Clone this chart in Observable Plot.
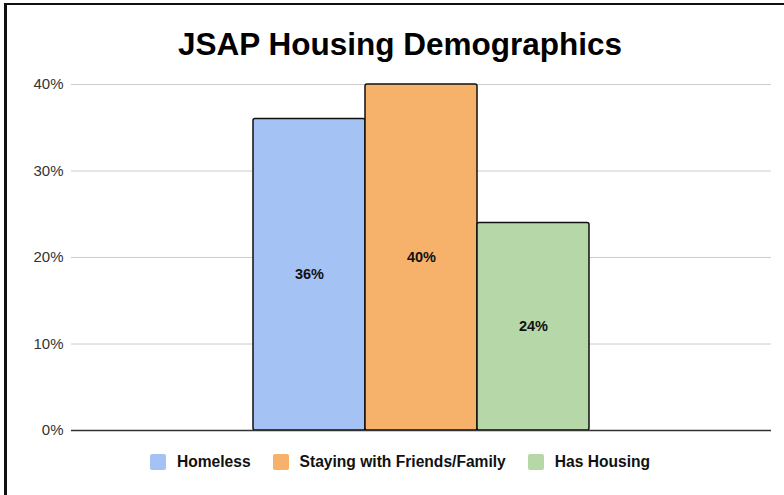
<!DOCTYPE html>
<html>
<head>
<meta charset="utf-8">
<script src="https://cdn.jsdelivr.net/npm/d3@7"></script>
<script src="https://cdn.jsdelivr.net/npm/@observablehq/plot@0.6"></script>
<style>
  html, body { margin: 0; padding: 0; background: #fff; }
  #page { position: relative; width: 784px; height: 495px; overflow: hidden; font-family: "Liberation Sans", Arial, sans-serif; }
  #frame { position: absolute; left: 4px; top: 3px; width: 790px; height: 500px; border-top: 2px solid #111; border-left: 3px solid #111; pointer-events: none; }
  #title { position: absolute; left: 16px; width: 768px; top: 26px; text-align: center; font-weight: bold; font-size: 31.5px; color: #000; line-height: 36px; }
  #chart { position: absolute; left: 0; top: 70px; }
  #legend { position: absolute; left: 16px; width: 768px; top: 453px; display: flex; justify-content: center; align-items: center; font-weight: bold; font-size: 15.6px; color: #111; }
  .item { display: flex; align-items: center; margin: 0 11px; }
  .sw { width: 16px; height: 16px; border-radius: 2px; margin-right: 11px; }
</style>
</head>
<body>
<div id="page">
  <div id="title">JSAP Housing Demographics</div>
  <div id="chart"></div>
  <div id="legend"></div>
  <div id="frame"></div>
</div>
<script>
const categories = ["Homeless", "Staying with Friends/Family", "Has Housing"];
const values = [0.36, 0.40, 0.24];
const colors = ["#a4c2f4", "#f6b26b", "#b6d7a8"];
const yTicks = [0, 0.1, 0.2, 0.3, 0.4];

const data = categories.map((c, i) => ({category: c, value: values[i]}));
const pct = d3.format(".0%");

const chart = Plot.plot({
  width: 784,
  height: 375,
  marginTop: 14,
  marginBottom: 15,
  marginLeft: 71,
  marginRight: 13,
  style: {fontFamily: "'Liberation Sans', Arial, sans-serif", fontSize: "15px", color: "#333", background: "transparent"},
  x: {domain: categories, paddingInner: 0, paddingOuter: 1.6, axis: null},
  y: {domain: [0, 0.4]},
  color: {domain: categories, range: colors},
  marks: [
    Plot.ruleY(yTicks.filter(d => d > 0), {stroke: "#cccccc", strokeWidth: 1}),
    Plot.axisY({ticks: yTicks, tickFormat: pct, tickSize: 0, tickPadding: 8, fontSize: 15, label: null}),
    Plot.barY(data, {x: "category", y: "value", fill: "category", stroke: "#111", strokeWidth: 1.5, rx: 2}),
    Plot.ruleY([0], {stroke: "#333", strokeWidth: 1.5}),
    Plot.text(data, {x: "category", y: d => d.value / 2, text: d => pct(d.value), fill: "#111", fontWeight: "bold", fontSize: 14.5})
  ]
});
document.getElementById("chart").appendChild(chart);

const legend = document.getElementById("legend");
categories.forEach((c, i) => {
  const item = document.createElement("div");
  item.className = "item";
  const sw = document.createElement("div");
  sw.className = "sw";
  sw.style.background = colors[i];
  const label = document.createElement("span");
  label.textContent = c;
  item.appendChild(sw);
  item.appendChild(label);
  legend.appendChild(item);
});
</script>
</body>
</html>
